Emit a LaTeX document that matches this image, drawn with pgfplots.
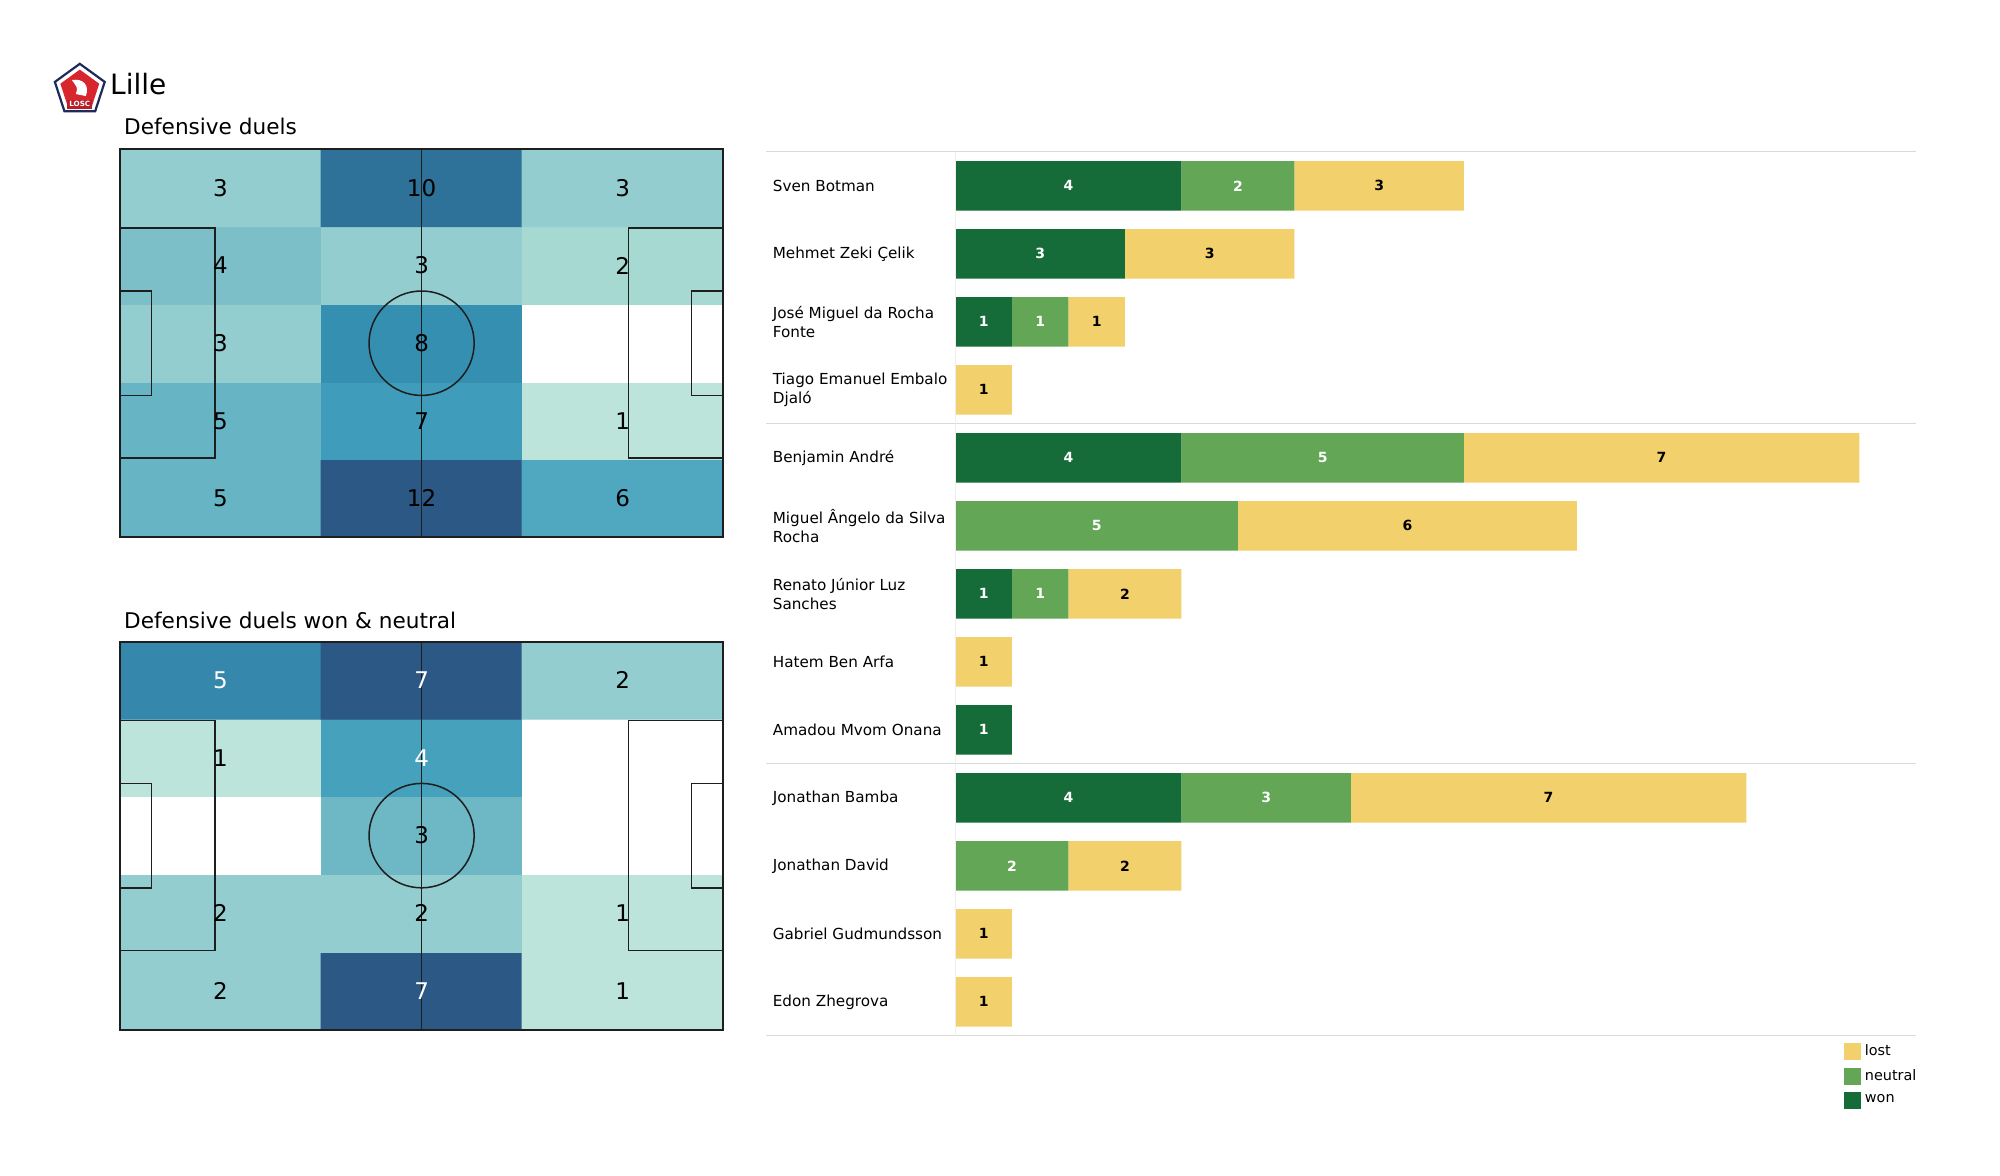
\documentclass[border=0pt]{standalone}
\usepackage{pgfplots}
\pgfplotsset{compat=1.18}
\usepackage{pgfplotstable}
\usepackage{fontspec}
\setmainfont{DejaVu Sans}
\definecolor{won}{HTML}{166C39}
\definecolor{neutral}{HTML}{62A656}
\definecolor{lost}{HTML}{F2D06B}
\definecolor{sepc}{HTML}{D9D9D9}
\definecolor{vlc}{HTML}{EEEEEE}
\definecolor{pline}{HTML}{1E1E1E}
\definecolor{losc}{HTML}{1F2A5C}
\definecolor{loscred}{HTML}{D7262E}

\pgfplotsset{sqlegend/.style={legend image code/.code={\fill[##1, draw=none] (0pt,-4.15pt) rectangle (8.3pt,4.15pt);}}}

% duels per player: won, neutral, lost
\pgfplotstableread{
idx won neutral lost
0 4 2 3
1 3 0 3
2 1 1 1
3 0 0 1
4 4 5 7
5 0 5 6
6 1 1 2
7 0 0 1
8 1 0 0
9 4 3 7
10 0 2 2
11 0 0 1
12 0 0 1
}\bardata

\pgfplotstableread{
x y v t
17.5 6.8 5 5
52.5 6.8 12 12
87.5 6.8 6 6
17.5 20.4 5 5
52.5 20.4 7 7
87.5 20.4 1 1
17.5 34 3 3
52.5 34 8 8
87.5 34 0 {}
17.5 47.6 4 4
52.5 47.6 3 3
87.5 47.6 2 2
17.5 61.2 3 3
52.5 61.2 10 10
87.5 61.2 3 3
}\heatA

\pgfplotstableread{
x y v tb tw
17.5 6.8 2 2 {}
52.5 6.8 7 {} 7
87.5 6.8 1 1 {}
17.5 20.4 2 2 {}
52.5 20.4 2 2 {}
87.5 20.4 1 1 {}
17.5 34 0 {} {}
52.5 34 3 3 {}
87.5 34 0 {} {}
17.5 47.6 1 1 {}
52.5 47.6 4 {} 4
87.5 47.6 0 {} {}
17.5 61.2 5 {} 5
52.5 61.2 7 {} 7
87.5 61.2 2 2 {}
}\heatB

\pgfplotsset{
  pitch/.style={scale only axis, width=301.6pt, height=194pt,
    xmin=0, xmax=105, ymin=0, ymax=68, hide axis, clip=false},
  numlab/.style={draw=none, mark=none, nodes near coords, point meta=explicit symbolic,
    every node near coord/.append style={anchor=center, font=\fontsize{11.5}{13}\selectfont, text=#1}},
  barlab/.style={draw=none, mark=none, nodes near coords, point meta=explicit symbolic,
    every node near coord/.append style={anchor=center, font=\fontsize{7}{8}\selectfont\bfseries, text=#1}},
  barbox/.style={at={(477.7pt,-75.9pt)}, anchor=north west, scale only axis, width=480.2pt, height=442pt,
    xmin=0, xmax=17, ymin=-0.5, ymax=12.5, y dir=reverse},
}

\newcommand{\pitchlines}{%
  \draw[pline, line width=0.75pt] (52.5,0) -- (52.5,68);
  \draw[pline, line width=0.75pt] (52.5,34) ellipse [x radius=9.15, y radius=9.15];
  \draw[pline, line width=0.75pt] (0,13.84) -- (16.5,13.84) -- (16.5,54.16) -- (0,54.16);
  \draw[pline, line width=0.75pt] (0,24.84) -- (5.5,24.84) -- (5.5,43.16) -- (0,43.16);
  \draw[pline, line width=0.75pt] (105,13.84) -- (88.5,13.84) -- (88.5,54.16) -- (105,54.16);
  \draw[pline, line width=0.75pt] (105,24.84) -- (99.5,24.84) -- (99.5,43.16) -- (105,43.16);
  \draw[pline, line width=0.95pt] (0,0) rectangle (105,68);
}

\begin{document}
\begin{tikzpicture}
\fill[white] (0,0) rectangle (1000pt,-587.5pt);
\path[use as bounding box] (0,0) rectangle (1000pt,-587.5pt);

% logo
\begin{scope}[shift={(39.9pt,-45pt)}]
  \filldraw[fill=white, draw=losc, line width=1.1pt] (90:13.1pt) -- (162:13.1pt) -- (234:13.1pt) -- (306:13.1pt) -- (18:13.1pt) -- cycle;
  \fill[loscred] (90:10.2pt) -- (162:10.2pt) -- (234:10.2pt) -- (306:10.2pt) -- (18:10.2pt) -- cycle;
  \fill[white] (-4pt,5pt) .. controls (2pt,6pt) and (5pt,2pt) .. (3pt,-3pt) -- (-2pt,-2pt) .. controls (-1pt,1pt) .. cycle;
  \fill[loscred!85!black] (-6.2pt,-9.5pt) rectangle (6.2pt,-4.8pt);
  \node[white, font=\fontsize{3.6}{4}\selectfont\bfseries, inner sep=0pt] at (0,-7.15pt) {LOSC};
\end{scope}
\node[anchor=base west, inner sep=0pt, font=\fontsize{14}{16}\selectfont] at (54.9pt,-47.2pt) {Lille};
\node[anchor=base west, inner sep=0pt, font=\fontsize{10.8}{13}\selectfont] at (61.9pt,-67pt) {Defensive duels};
\node[anchor=base west, inner sep=0pt, font=\fontsize{10.8}{13}\selectfont] at (61.9pt,-314.4pt) {Defensive duels won \& neutral};

% pitch 1
\begin{axis}[pitch, at={(60pt,-74.6pt)}, anchor=north west,
  colormap={heatA}{rgb255(0pt)=(255,255,255); rgb255(1pt)=(189,228,218); rgb255(2pt)=(166,217,210);
    rgb255(3pt)=(147,205,208); rgb255(4pt)=(125,191,200); rgb255(5pt)=(103,180,196); rgb255(6pt)=(79,168,192);
    rgb255(7pt)=(64,156,187); rgb255(8pt)=(53,143,177); rgb255(9pt)=(50,129,166); rgb255(10pt)=(47,114,153);
    rgb255(11pt)=(46,101,143); rgb255(12pt)=(44,88,133)},
  point meta min=0, point meta max=12]
\addplot[matrix plot*, mesh/cols=3, point meta=explicit] table[x=x, y=y, meta=v] {\heatA};
\addplot[numlab=black] table[x=x, y=y, meta=t] {\heatA};
\pitchlines
\end{axis}

% pitch 2
\begin{axis}[pitch, at={(60pt,-320.8pt)}, anchor=north west,
  colormap={heatB}{rgb255(0pt)=(255,255,255); rgb255(1pt)=(189,228,218); rgb255(2pt)=(147,205,208);
    rgb255(3pt)=(110,184,198); rgb255(4pt)=(69,161,188); rgb255(5pt)=(53,135,172); rgb255(6pt)=(48,110,150);
    rgb255(7pt)=(44,88,133)},
  point meta min=0, point meta max=7]
\addplot[matrix plot*, mesh/cols=3, point meta=explicit] table[x=x, y=y, meta=v] {\heatB};
\addplot[numlab=black] table[x=x, y=y, meta=tb] {\heatB};
\addplot[numlab=white] table[x=x, y=y, meta=tw] {\heatB};
\pitchlines
\end{axis}

% bars
\begin{axis}[barbox,
  xbar stacked, bar width=0.73,
  axis line style={draw=none}, xtick=\empty, ytick={0,...,12}, major tick length=0pt,
  yticklabels={Sven Botman, Mehmet Zeki Çelik, {José Miguel da Rocha\\Fonte}, {Tiago Emanuel Embalo\\Djaló},
    Benjamin André, {Miguel Ângelo da Silva\\Rocha}, {Renato Júnior Luz\\Sanches}, Hatem Ben Arfa,
    Amadou Mvom Onana, Jonathan Bamba, Jonathan David, Gabriel Gudmundsson, Edon Zhegrova},
  yticklabel style={anchor=west, align=left, xshift=-94.8pt, font=\fontsize{7.6}{9.4}\selectfont},
  clip=false, reverse legend,
  legend style={at={(1,0)}, anchor=north east, xshift=2.5pt, yshift=-2pt, draw=none, fill=none, inner sep=0pt,
    font=\fontsize{7.2}{8}\selectfont, row sep=1.7pt, legend cell align=left,
    /tikz/every even column/.append style={column sep=2.5pt}},
]
\draw[vlc, line width=0.6pt] (0,-0.5) -- (0,12.5);
\foreach \yy in {-0.5,3.5,8.5,12.5} {
  \edef\temp{\noexpand\draw[sepc, line width=0.6pt] (-3.36,\yy) -- (17,\yy);}\temp
}
\addplot[fill=won, draw=none, sqlegend] table[x=won, y=idx] {\bardata};
\addplot[fill=neutral, draw=none, sqlegend] table[x=neutral, y=idx] {\bardata};
\addplot[fill=lost, draw=none, sqlegend] table[x=lost, y=idx] {\bardata};
\legend{won, neutral, lost}
\end{axis}

% value labels centred in the bar segments
\begin{axis}[barbox, hide axis, clip=false]
\addplot[barlab=white] coordinates {
  (2,0) [4] (5,0) [2]
  (1.5,1) [3]
  (0.5,2) [1] (1.5,2) [1]
  (2,4) [4] (6.5,4) [5]
  (2.5,5) [5]
  (0.5,6) [1] (1.5,6) [1]
  (0.5,8) [1]
  (2,9) [4] (5.5,9) [3]
  (1,10) [2]
};
\addplot[barlab=black] coordinates {
  (7.5,0) [3]
  (4.5,1) [3]
  (2.5,2) [1]
  (0.5,3) [1]
  (12.5,4) [7]
  (8,5) [6]
  (3,6) [2]
  (0.5,7) [1]
  (10.5,9) [7]
  (3,10) [2]
  (0.5,11) [1]
  (0.5,12) [1]
};
\end{axis}
\end{tikzpicture}
\end{document}
